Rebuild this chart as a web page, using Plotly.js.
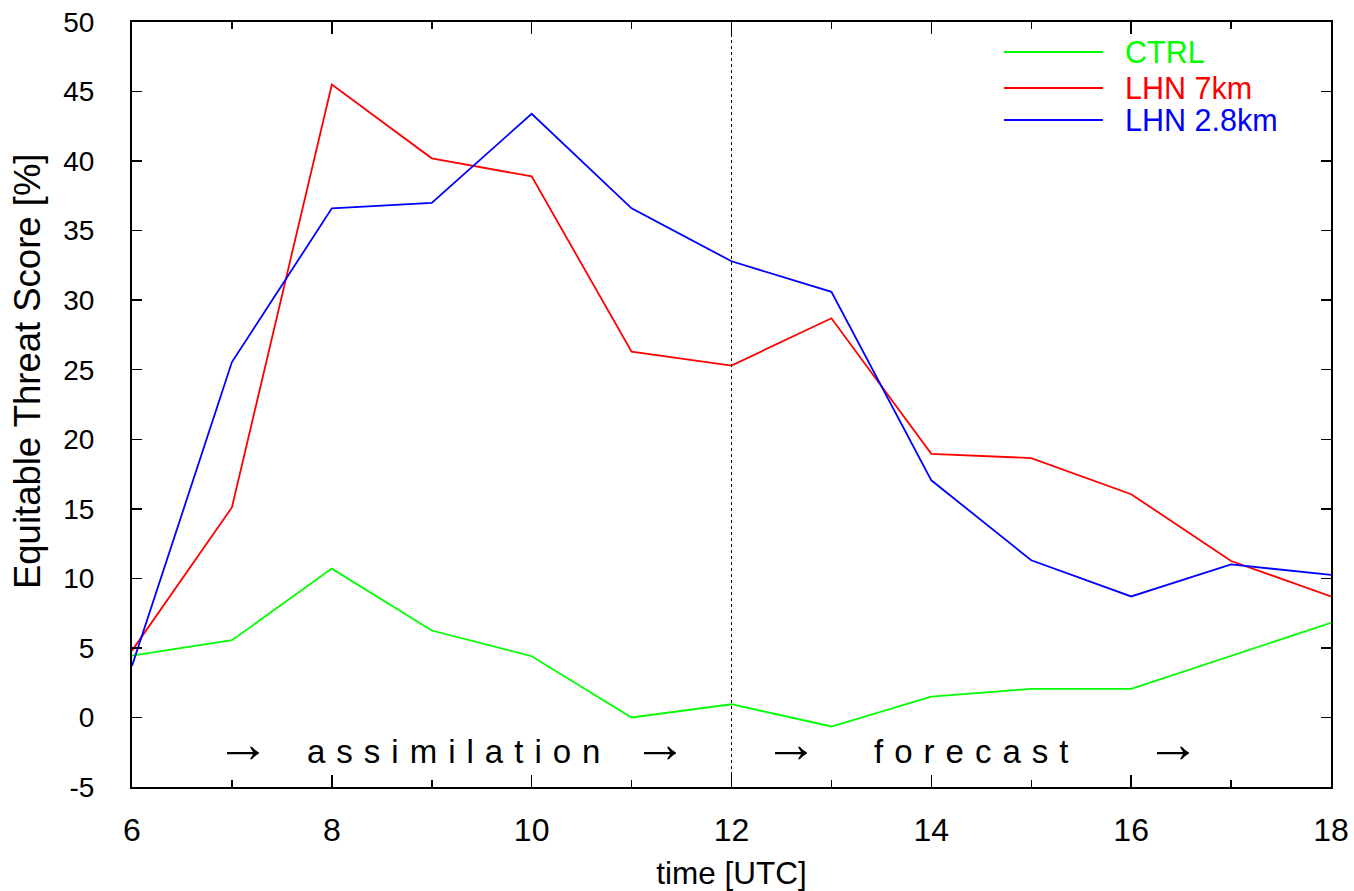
<!DOCTYPE html>
<html>
<head>
<meta charset="utf-8">
<script src="https://cdn.plot.ly/plotly-3.0.1.min.js"></script>
<style>html,body{margin:0;padding:0;background:#fff;}#chart{width:1354px;height:891px;}</style>
</head>
<body>
<div id="chart"></div>
<script>
const hours = [6, 7, 8, 9, 10, 11, 12, 13, 14, 15, 16, 17, 18];
const ctrl = [4.45, 5.55, 10.7, 6.25, 4.4, 0.0, 0.95, -0.65, 1.5, 2.05, 2.05, 4.4, 6.8];
const lhn7 = [4.8, 15.1, 45.5, 40.2, 38.9, 26.3, 25.3, 28.7, 18.95, 18.65, 16.05, 11.25, 8.7];
const lhn28 = [3.7, 25.55, 36.6, 37.0, 43.4, 36.6, 32.8, 30.6, 17.05, 11.3, 8.7, 11.0, 10.25];
const seriesNames = ['CTRL', 'LHN 7km', 'LHN 2.8km'];
const seriesColors = ['#00ff00', '#ff0000', '#0000ff'];
const xTicks = [6, 8, 10, 12, 14, 16, 18];
const yTicks = [-5, 0, 5, 10, 15, 20, 25, 30, 35, 40, 45, 50];
const splitHour = 12;
const phaseWords = ['assimilation', 'forecast'];

const sans = '"Liberation Sans", Arial, sans-serif';
const allSeries = [ctrl, lhn7, lhn28];

const traces = allSeries.map((ys, i) => ({
  x: hours, y: ys, type: 'scatter', mode: 'lines', name: seriesNames[i],
  line: {color: seriesColors[i], width: 1.8}, showlegend: false
}));

const shapes = [
  {type: 'line', xref: 'x', yref: 'paper', x0: splitHour, x1: splitHour, y0: 0, y1: 1,
   line: {color: '#000', width: 1, dash: 'dot'}}
];
const annotations = [];
// legend (drawn manually: long sample lines and coloured text)
const legY = [0.9608, 0.9137, 0.8719];
seriesNames.forEach((n, i) => {
  shapes.push({type: 'line', xref: 'paper', yref: 'paper', x0: 0.7273, x1: 0.8098, y0: legY[i], y1: legY[i],
    line: {color: seriesColors[i], width: 1.8}});
  annotations.push({xref: 'paper', yref: 'paper', x: 0.8265, y: legY[i], xanchor: 'left', yanchor: 'middle',
    text: n, showarrow: false, font: {family: sans, size: 30.5, color: seriesColors[i]}});
});
// phase labels
const spaced = w => w.split('').join('\u2004');
const phaseY = -2.45;
const arrowY = -1.85;
[[7.111, '\u2192'], [11.284, '\u2192'], [12.595, '\u2192'], [16.418, '\u2192']].forEach(p =>
  annotations.push({xref: 'x', yref: 'y', x: p[0], y: arrowY, text: p[1], showarrow: false,
    xanchor: 'center', yanchor: 'middle', font: {family: sans, size: 54, color: '#000'}}));
[[9.218, phaseWords[0]], [14.397, phaseWords[1]]].forEach(p =>
  annotations.push({xref: 'x', yref: 'y', x: p[0], y: phaseY, text: spaced(p[1]), showarrow: false,
    xanchor: 'center', yanchor: 'middle', font: {family: sans, size: 33, color: '#000'}}));
// y axis title (placed to match the reference's offset position)
annotations.push({xref: 'paper', yref: 'paper', x: -0.0867, y: 0.5438, xanchor: 'center', yanchor: 'middle',
  text: 'Equitable Threat Score [%]', textangle: -90, showarrow: false,
  font: {family: sans, size: 36.5, color: '#000'}});

const layout = {
  width: 1354, height: 891,
  margin: {l: 132, r: 23, t: 22, b: 104},
  paper_bgcolor: '#fff', plot_bgcolor: '#fff',
  showlegend: false,
  xaxis: {
    range: [6, 18], tickvals: xTicks, ticktext: xTicks.map(String),
    ticks: 'inside', ticklen: 12, tickwidth: 1.5, tickcolor: '#000',
    minor: {dtick: 1, ticks: 'inside', ticklen: 7, tickwidth: 1.5, tickcolor: '#000', showgrid: false},
    showline: true, linecolor: '#000', linewidth: 2, mirror: 'ticks',
    showgrid: false, zeroline: false,
    tickfont: {family: sans, size: 32, color: '#000'}, ticklabelstandoff: 14,
    title: {text: 'time [UTC]', font: {family: sans, size: 31.5, color: '#000'}, standoff: 18},
    automargin: false
  },
  yaxis: {
    range: [-5, 50], tickvals: yTicks, ticktext: yTicks.map(String),
    ticks: 'inside', ticklen: 10, tickwidth: 1.5, tickcolor: '#000',
    showline: true, linecolor: '#000', linewidth: 2, mirror: 'ticks',
    showgrid: false, zeroline: false,
    tickfont: {family: sans, size: 28, color: '#000'}, ticklabelstandoff: 30,
    automargin: false
  },
  shapes: shapes,
  annotations: annotations
};

Plotly.newPlot('chart', traces, layout, {displayModeBar: false, staticPlot: true});
</script>
</body>
</html>
